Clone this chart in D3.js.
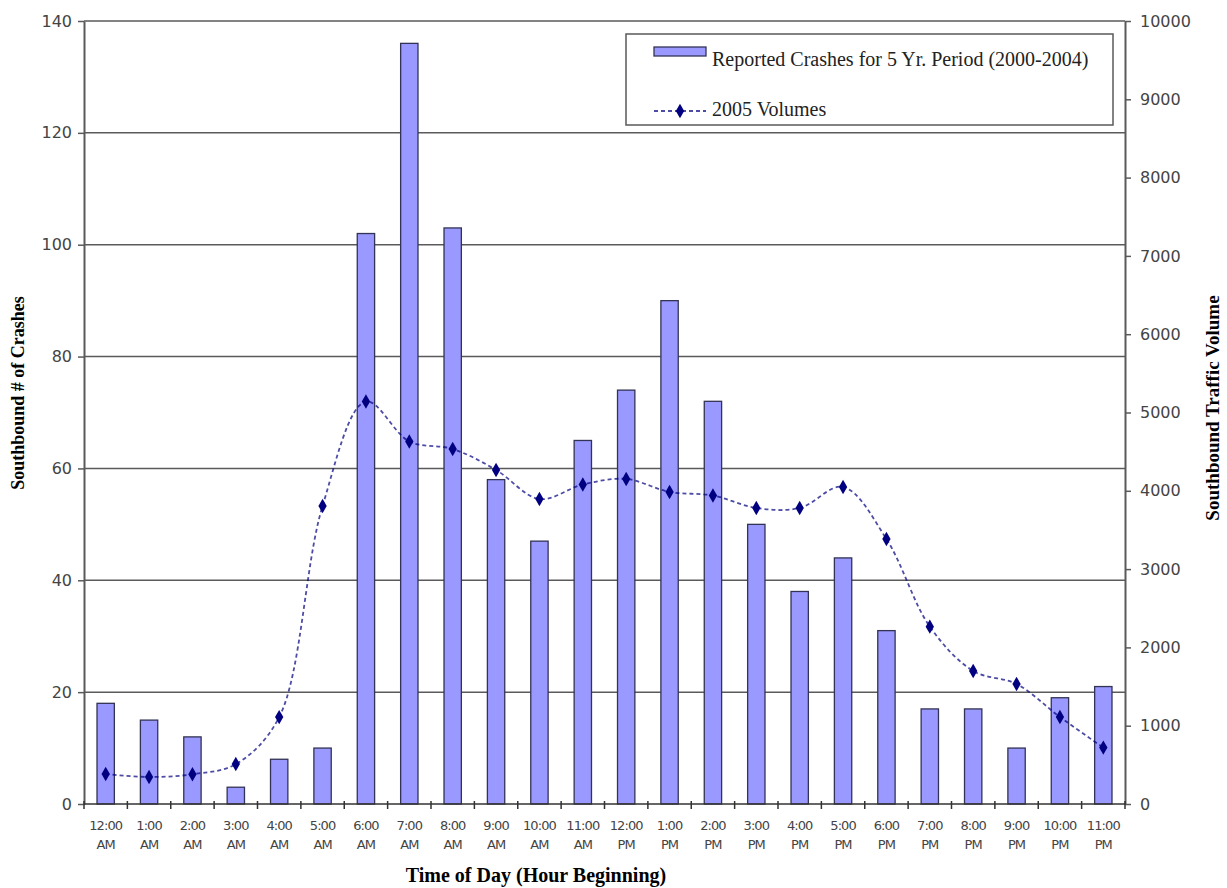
<!DOCTYPE html>
<html>
<head>
<meta charset="utf-8">
<script src="https://cdn.jsdelivr.net/npm/d3@7"></script>
<style>
  body { margin: 0; background: #fff; }
  svg { display: block; }
</style>
</head>
<body>
<div id="chart"></div>
<script>
// hour labels, two lines each
var hours = ["12:00", "1:00", "2:00", "3:00", "4:00", "5:00", "6:00", "7:00", "8:00", "9:00", "10:00", "11:00",
             "12:00", "1:00", "2:00", "3:00", "4:00", "5:00", "6:00", "7:00", "8:00", "9:00", "10:00", "11:00"];
var periods = ["AM", "AM", "AM", "AM", "AM", "AM", "AM", "AM", "AM", "AM", "AM", "AM",
               "PM", "PM", "PM", "PM", "PM", "PM", "PM", "PM", "PM", "PM", "PM", "PM"];

// crashes 2000-2004
var crashes = [18, 15, 12, 3, 8, 10, 102, 136, 103, 58, 47, 65, 74, 90, 72, 50, 38, 44, 31, 17, 17, 10, 19, 21];
// 2005 volumes
var volumes = [383, 345, 380, 510, 1110, 3806, 5140, 4630, 4534, 4266, 3895, 4080, 4151, 3985, 3940, 3780,
               3780, 4049, 3384, 2265, 1699, 1533, 1111, 720];

var leftTicks = [0, 20, 40, 60, 80, 100, 120, 140];
var rightTicks = [0, 1000, 2000, 3000, 4000, 5000, 6000, 7000, 8000, 9000, 10000];

var W = 1227, H = 888;
var margin = {top: 21, right: 102, bottom: 84, left: 84};
var width = W - margin.left - margin.right,
    height = H - margin.top - margin.bottom;

var svg = d3.select("#chart").append("svg")
    .attr("width", W)
    .attr("height", H);

var g = svg.append("g")
    .attr("transform", "translate(" + margin.left + "," + margin.top + ")");

var idx = d3.range(crashes.length);

var x = d3.scaleBand()
    .domain(idx)
    .range([0, width])
    .paddingInner(0.6)
    .paddingOuter(0.3);

var y = d3.scaleLinear().domain([0, 140]).range([height, 0]);
var y2 = d3.scaleLinear().domain([0, 10000]).range([height, 0]);

var gridColor = "#5a5a5a";
var tickFont = "DejaVu Sans, Verdana, sans-serif";

// gridlines
g.append("g").selectAll("line")
  .data(leftTicks.slice(1))
  .enter().append("line")
    .attr("x1", 0)
    .attr("x2", width)
    .attr("y1", d => y(d))
    .attr("y2", d => y(d))
    .attr("stroke", gridColor)
    .attr("stroke-width", 1.5);

// bars
g.append("g").selectAll("rect")
  .data(crashes)
  .enter().append("rect")
    .attr("x", (d, i) => x(i))
    .attr("y", d => y(d))
    .attr("width", x.bandwidth())
    .attr("height", d => height - y(d))
    .attr("fill", "#9999ff")
    .attr("stroke", "#333355")
    .attr("stroke-width", 1.3);

// left axis
var yAxis = g.append("g")
    .call(d3.axisLeft(y).tickValues(leftTicks).tickSize(6).tickSizeOuter(0));
yAxis.select(".domain").attr("stroke", gridColor).attr("stroke-width", 2);
yAxis.selectAll(".tick line").attr("stroke", gridColor).attr("stroke-width", 1.5);
yAxis.selectAll("text")
    .attr("font-family", tickFont)
    .attr("font-size", 16)
    .attr("fill", "#444")
    .attr("dx", -3);

// right axis
var yAxis2 = g.append("g")
    .attr("transform", "translate(" + width + ",0)")
    .call(d3.axisRight(y2).tickValues(rightTicks).tickFormat(d3.format("d")).tickSize(6).tickSizeOuter(0));
yAxis2.select(".domain").attr("stroke", gridColor).attr("stroke-width", 2);
yAxis2.selectAll(".tick line").attr("stroke", gridColor).attr("stroke-width", 1.5);
yAxis2.selectAll("text")
    .attr("font-family", tickFont)
    .attr("font-size", 16)
    .attr("fill", "#444")
    .attr("dx", 6);

// x axis: baseline with boundary ticks
var step = width / crashes.length;
var xg = g.append("g").attr("transform", "translate(0," + height + ")");
xg.append("line")
    .attr("x1", 0).attr("x2", width)
    .attr("stroke", "#333").attr("stroke-width", 1.5);
xg.selectAll(".xt")
  .data(d3.range(crashes.length + 1))
  .enter().append("line")
    .attr("class", "xt")
    .attr("x1", d => d * step).attr("x2", d => d * step)
    .attr("y1", -3).attr("y2", 5)
    .attr("stroke", "#333").attr("stroke-width", 1.5);

var xl = xg.selectAll(".xl")
  .data(idx)
  .enter().append("text")
    .attr("class", "xl")
    .attr("text-anchor", "middle")
    .attr("font-family", tickFont)
    .attr("font-size", 13)
    .attr("letter-spacing", -0.9)
    .attr("fill", "#444");
xl.append("tspan")
    .attr("x", d => x(d) + x.bandwidth() / 2)
    .attr("y", 26)
    .text(d => hours[d]);
xl.append("tspan")
    .attr("x", d => x(d) + x.bandwidth() / 2)
    .attr("y", 45)
    .text(d => periods[d]);

// volume line
var line = d3.line()
    .x((d, i) => x(i) + x.bandwidth() / 2)
    .y(d => y2(d))
    .curve(d3.curveCatmullRom.alpha(0.5));

g.append("path")
    .datum(volumes)
    .attr("d", line)
    .attr("fill", "none")
    .attr("stroke", "#000080")
    .attr("stroke-opacity", 0.7)
    .attr("stroke-width", 1.8)
    .attr("stroke-dasharray", "4,3");

var diamond = d3.symbol().type(d3.symbolDiamond).size(60);
g.append("g").selectAll("path")
  .data(volumes)
  .enter().append("path")
    .attr("d", diamond)
    .attr("transform", (d, i) => "translate(" + (x(i) + x.bandwidth() / 2) + "," + y2(d) + ")")
    .attr("fill", "#000080");

// axis titles
var titleFont = "Liberation Serif, Times New Roman, serif";
svg.append("text")
    .attr("transform", "translate(24,393) rotate(-90)")
    .attr("text-anchor", "middle")
    .attr("font-family", titleFont)
    .attr("font-weight", "bold")
    .attr("font-size", 18)
    .text("Southbound # of Crashes");

svg.append("text")
    .attr("transform", "translate(1219,408) rotate(-90)")
    .attr("text-anchor", "middle")
    .attr("font-family", titleFont)
    .attr("font-weight", "bold")
    .attr("font-size", 19)
    .text("Southbound Traffic Volume");

svg.append("text")
    .attr("x", 536)
    .attr("y", 882)
    .attr("text-anchor", "middle")
    .attr("font-family", titleFont)
    .attr("font-weight", "bold")
    .attr("font-size", 20)
    .text("Time of Day (Hour Beginning)");

// legend
var lg = svg.append("g").attr("transform", "translate(626,34)");
lg.append("rect")
    .attr("width", 487).attr("height", 91)
    .attr("fill", "#fff")
    .attr("stroke", gridColor).attr("stroke-width", 1.5);
lg.append("rect")
    .attr("x", 28).attr("y", 13).attr("width", 52).attr("height", 9)
    .attr("fill", "#9999ff").attr("stroke", "#333355").attr("stroke-width", 1.3);
lg.append("text")
    .attr("x", 86).attr("y", 32)
    .attr("font-family", titleFont).attr("font-size", 20)
    .attr("fill", "#222")
    .text("Reported Crashes for 5 Yr. Period (2000-2004)");
lg.append("line")
    .attr("x1", 28).attr("x2", 80).attr("y1", 77).attr("y2", 77)
    .attr("stroke", "#000080").attr("stroke-opacity", 0.7)
    .attr("stroke-width", 1.8).attr("stroke-dasharray", "4,3");
lg.append("path")
    .attr("d", diamond)
    .attr("transform", "translate(54,77)")
    .attr("fill", "#000080");
lg.append("text")
    .attr("x", 86).attr("y", 82)
    .attr("font-family", titleFont).attr("font-size", 20)
    .attr("fill", "#222")
    .text("2005 Volumes");
</script>
</body>
</html>
